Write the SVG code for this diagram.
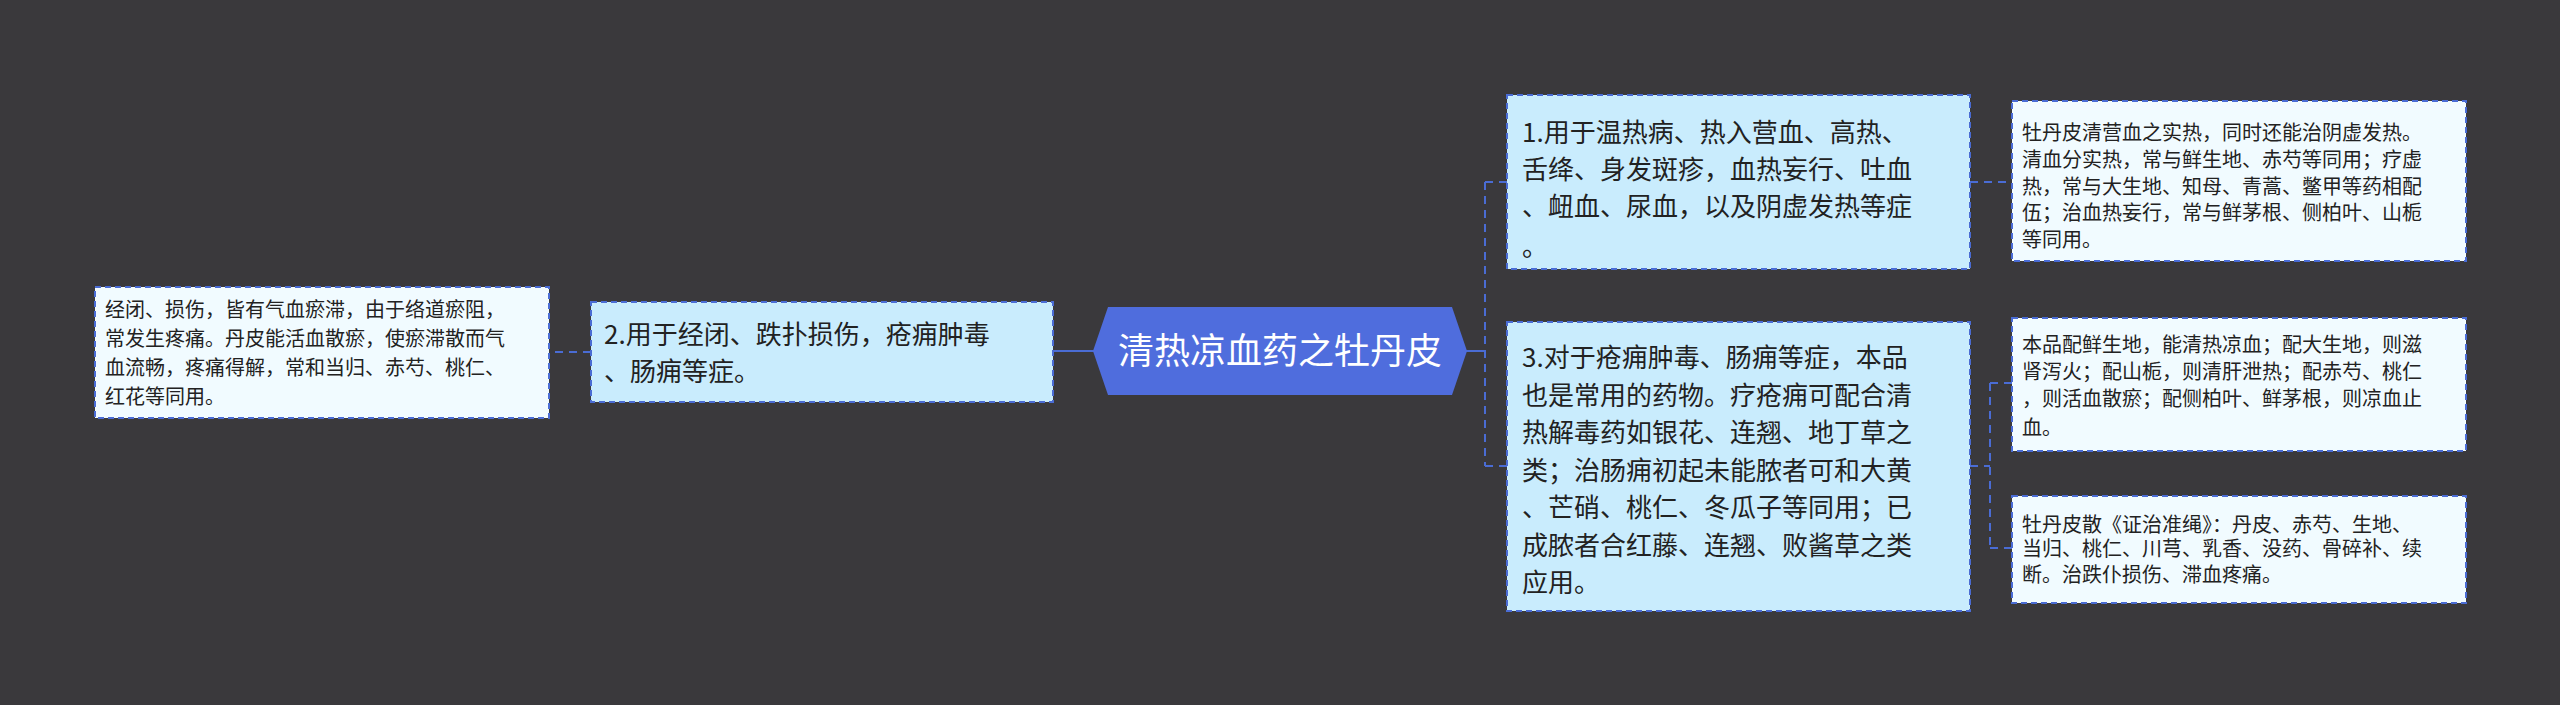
<svg xmlns="http://www.w3.org/2000/svg" width="2560" height="705" viewBox="0 0 2560 705">
<style>
.m{fill:#c9ecfd;stroke:#4a6cd4;stroke-width:2;stroke-dasharray:6 4}
.s{fill:#f1fbff;stroke:#4a6cd4;stroke-width:2;stroke-dasharray:6 4}
.t{font-family:"Noto Sans CJK SC","Noto Sans",sans-serif;fill:#222}
.tm{font-size:26px}
.ts{font-size:20px}
.c{stroke:#4a6cd4;stroke-width:2;fill:none}
.d{stroke-dasharray:8 6}
</style>
<rect width="2560" height="705" fill="#3a393c"/>
<g id="connectors">
<path class="c" d="M1465 351H1485"/>
<path class="c d" d="M1485 182V466M1485 182H1507M1485 466H1507"/>
<path class="c d" d="M1970 182H2012"/>
<path class="c d" d="M1970 466H1990M1990 383V548M1990 383H2012M1990 548H2012"/>
<path class="c" d="M1094 351H1053"/>
<path class="c d" d="M591 352H549"/>
</g>
<g id="center">
<polygon points="1108,307 1452,307 1467,351 1452,395 1108,395 1093,351" fill="#4f6ddd"/>
<text class="t" x="1280" y="364" text-anchor="middle" font-size="36" style="fill:#fff">清热凉血药之牡丹皮</text>
</g>
<g id="n1">
<rect class="m" x="1507" y="95" width="463" height="174"/>
<text class="t tm" x="1522"><tspan x="1522" y="142">1.用于温热病、热入营血、高热、</tspan><tspan x="1522" y="179">舌绛、身发斑疹，血热妄行、吐血</tspan><tspan x="1522" y="216">、衄血、尿血，以及阴虚发热等症</tspan><tspan x="1522" y="256">。</tspan></text>
</g>
<g id="n3">
<rect class="m" x="1507" y="322" width="463" height="289"/>
<text class="t tm" x="1522"><tspan x="1522" y="367">3.对于疮痈肿毒、肠痈等症，本品</tspan><tspan x="1522" y="405">也是常用的药物。疗疮痈可配合清</tspan><tspan x="1522" y="442">热解毒药如银花、连翘、地丁草之</tspan><tspan x="1522" y="480">类；治肠痈初起未能脓者可和大黄</tspan><tspan x="1522" y="517">、芒硝、桃仁、冬瓜子等同用；已</tspan><tspan x="1522" y="555">成脓者合红藤、连翘、败酱草之类</tspan><tspan x="1522" y="592">应用。</tspan></text>
</g>
<g id="n2">
<rect class="m" x="591" y="302" width="462" height="100"/>
<text class="t tm"><tspan x="604" y="344">2.用于经闭、跌扑损伤，疮痈肿毒</tspan><tspan x="604" y="381">、肠痈等症。</tspan></text>
</g>
<g id="l1">
<rect class="s" x="95" y="287" width="454" height="131"/>
<text class="t ts"><tspan x="105" y="317">经闭、损伤，皆有气血瘀滞，由于络道瘀阻，</tspan><tspan x="105" y="346">常发生疼痛。丹皮能活血散瘀，使瘀滞散而气</tspan><tspan x="105" y="375">血流畅，疼痛得解，常和当归、赤芍、桃仁、</tspan><tspan x="105" y="404">红花等同用。</tspan></text>
</g>
<g id="r1">
<rect class="s" x="2012" y="101" width="454" height="160"/>
<text class="t ts"><tspan x="2022" y="140">牡丹皮清营血之实热，同时还能治阴虚发热。</tspan><tspan x="2022" y="167">清血分实热，常与鲜生地、赤芍等同用；疗虚</tspan><tspan x="2022" y="194">热，常与大生地、知母、青蒿、鳖甲等药相配</tspan><tspan x="2022" y="220">伍；治血热妄行，常与鲜茅根、侧柏叶、山栀</tspan><tspan x="2022" y="247">等同用。</tspan></text>
</g>
<g id="r2">
<rect class="s" x="2012" y="318" width="454" height="133"/>
<text class="t ts"><tspan x="2022" y="352">本品配鲜生地，能清热凉血；配大生地，则滋</tspan><tspan x="2022" y="379">肾泻火；配山栀，则清肝泄热；配赤芍、桃仁</tspan><tspan x="2022" y="406">，则活血散瘀；配侧柏叶、鲜茅根，则凉血止</tspan><tspan x="2022" y="435">血。</tspan></text>
</g>
<g id="r3">
<rect class="s" x="2012" y="496" width="454" height="107"/>
<text class="t ts"><tspan x="2022" y="532">牡丹皮散《证治准绳》：丹皮、赤芍、生地、</tspan><tspan x="2022" y="556">当归、桃仁、川芎、乳香、没药、骨碎补、续</tspan><tspan x="2022" y="582">断。治跌仆损伤、滞血疼痛。</tspan></text>
</g>
</svg>
